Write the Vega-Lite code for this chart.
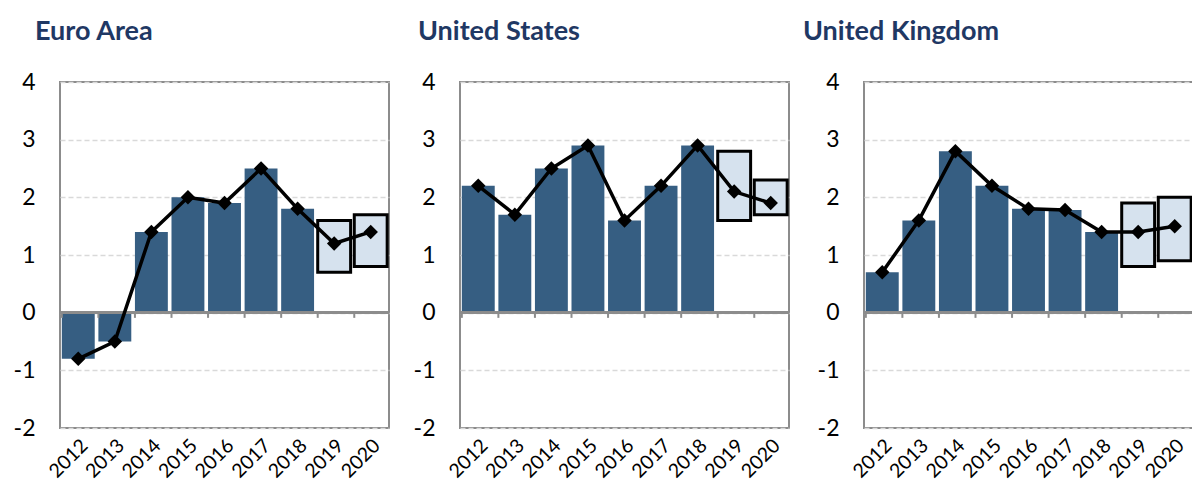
{
  "$schema": "https://vega.github.io/schema/vega-lite/v6.json",
  "padding": {"left": 12, "top": 17, "right": 0, "bottom": 0},
  "spacing": 10,
  "config": {
    "view": {"stroke": "#8c8c8c", "strokeWidth": 2},
    "font": "Lato",
    "axis": {"labelFont": "Lato", "labelColor": "#000000"}
  },
  "datasets": {
    "d": [
      {"region": "Euro Area", "year": "2012", "value": -0.8, "bar": -0.8, "lo": null, "hi": null},
      {"region": "Euro Area", "year": "2013", "value": -0.5, "bar": -0.5, "lo": null, "hi": null},
      {"region": "Euro Area", "year": "2014", "value": 1.4, "bar": 1.4, "lo": null, "hi": null},
      {"region": "Euro Area", "year": "2015", "value": 2.0, "bar": 2.0, "lo": null, "hi": null},
      {"region": "Euro Area", "year": "2016", "value": 1.9, "bar": 1.9, "lo": null, "hi": null},
      {"region": "Euro Area", "year": "2017", "value": 2.5, "bar": 2.5, "lo": null, "hi": null},
      {"region": "Euro Area", "year": "2018", "value": 1.8, "bar": 1.8, "lo": null, "hi": null},
      {"region": "Euro Area", "year": "2019", "value": 1.2, "bar": null, "lo": 0.7, "hi": 1.6},
      {"region": "Euro Area", "year": "2020", "value": 1.4, "bar": null, "lo": 0.8, "hi": 1.7},
      {"region": "United States", "year": "2012", "value": 2.2, "bar": 2.2, "lo": null, "hi": null},
      {"region": "United States", "year": "2013", "value": 1.7, "bar": 1.7, "lo": null, "hi": null},
      {"region": "United States", "year": "2014", "value": 2.5, "bar": 2.5, "lo": null, "hi": null},
      {"region": "United States", "year": "2015", "value": 2.9, "bar": 2.9, "lo": null, "hi": null},
      {"region": "United States", "year": "2016", "value": 1.6, "bar": 1.6, "lo": null, "hi": null},
      {"region": "United States", "year": "2017", "value": 2.2, "bar": 2.2, "lo": null, "hi": null},
      {"region": "United States", "year": "2018", "value": 2.9, "bar": 2.9, "lo": null, "hi": null},
      {"region": "United States", "year": "2019", "value": 2.1, "bar": null, "lo": 1.6, "hi": 2.8},
      {"region": "United States", "year": "2020", "value": 1.9, "bar": null, "lo": 1.7, "hi": 2.3},
      {"region": "United Kingdom", "year": "2012", "value": 0.7, "bar": 0.7, "lo": null, "hi": null},
      {"region": "United Kingdom", "year": "2013", "value": 1.6, "bar": 1.6, "lo": null, "hi": null},
      {"region": "United Kingdom", "year": "2014", "value": 2.8, "bar": 2.8, "lo": null, "hi": null},
      {"region": "United Kingdom", "year": "2015", "value": 2.2, "bar": 2.2, "lo": null, "hi": null},
      {"region": "United Kingdom", "year": "2016", "value": 1.8, "bar": 1.8, "lo": null, "hi": null},
      {"region": "United Kingdom", "year": "2017", "value": 1.78, "bar": 1.78, "lo": null, "hi": null},
      {"region": "United Kingdom", "year": "2018", "value": 1.4, "bar": 1.4, "lo": null, "hi": null},
      {"region": "United Kingdom", "year": "2019", "value": 1.4, "bar": null, "lo": 0.8, "hi": 1.9},
      {"region": "United Kingdom", "year": "2020", "value": 1.5, "bar": null, "lo": 0.9, "hi": 2.0}
    ]
  },
  "hconcat": [
    {
      "spacing": 20,
      "hconcat": [
        {
          "title": {"text": "Euro Area", "anchor": "start", "frame": "group", "dx": -25, "fontSize": 27, "font": "Lato", "fontWeight": "bold", "color": "#1f3864", "offset": 25},
          "width": 329, "height": 346,
          "data": {"name": "d"},
          "transform": [{"filter": "datum.region === 'Euro Area'"}],
          "layer": [
            {"transform": [{"filter": "datum.bar != null"}], "mark": {"type": "bar", "color": "#365e82"},
             "encoding": {
               "x": {"field": "year", "type": "ordinal", "scale": {"paddingInner": 0.1, "paddingOuter": 0.05}, "axis": {"title": null, "labelAngle": -45, "labelFontSize": 19.5, "ticks": false, "domain": false, "labelPadding": 8}},
               "y": {"field": "bar", "type": "quantitative", "scale": {"domain": [-2, 4], "nice": false}, "axis": {"title": null, "values": [-2, -1, 0, 1, 2, 3, 4], "labelExpr": "'' + datum.value", "labelFontSize": 23, "labelPadding": 25, "ticks": false, "domain": false, "gridDash": [5, 3], "gridColor": "#d9d9d9", "gridWidth": 1.5}}}},
            {"transform": [{"filter": "datum.lo != null"}], "mark": {"type": "bar", "fill": "#d6e2ee", "stroke": "#000000", "strokeWidth": 3},
             "encoding": {"x": {"field": "year", "type": "ordinal"}, "y": {"field": "lo", "type": "quantitative"}, "y2": {"field": "hi"}}},
            {"mark": {"type": "rule", "color": "#8c8c8c", "strokeWidth": 2.5}, "encoding": {"y": {"datum": 0}}},
            {"mark": {"type": "rule", "color": "#8c8c8c", "strokeWidth": 2}, "encoding": {"x": {"field": "year", "type": "ordinal", "bandPosition": 0}, "y": {"datum": 0}, "y2": {"datum": -0.09}}},
            {"mark": {"type": "line", "color": "#000000", "strokeWidth": 3.5, "point": {"shape": "diamond", "size": 210, "fill": "#000000", "filled": true}},
             "encoding": {"x": {"field": "year", "type": "ordinal"}, "y": {"field": "value", "type": "quantitative"}}}
          ]
        },
        {
          "title": {"text": "United States", "anchor": "start", "frame": "group", "dx": -42, "fontSize": 27, "font": "Lato", "fontWeight": "bold", "color": "#1f3864", "offset": 25},
          "width": 329, "height": 346,
          "data": {"name": "d"},
          "transform": [{"filter": "datum.region === 'United States'"}],
          "layer": [
            {"transform": [{"filter": "datum.bar != null"}], "mark": {"type": "bar", "color": "#365e82"},
             "encoding": {
               "x": {"field": "year", "type": "ordinal", "scale": {"paddingInner": 0.1, "paddingOuter": 0.05}, "axis": {"title": null, "labelAngle": -45, "labelFontSize": 19.5, "ticks": false, "domain": false, "labelPadding": 8}},
               "y": {"field": "bar", "type": "quantitative", "scale": {"domain": [-2, 4], "nice": false}, "axis": {"title": null, "values": [-2, -1, 0, 1, 2, 3, 4], "labelExpr": "'' + datum.value", "labelFontSize": 23, "labelPadding": 25, "ticks": false, "domain": false, "gridDash": [5, 3], "gridColor": "#d9d9d9", "gridWidth": 1.5}}}},
            {"transform": [{"filter": "datum.lo != null"}], "mark": {"type": "bar", "fill": "#d6e2ee", "stroke": "#000000", "strokeWidth": 3},
             "encoding": {"x": {"field": "year", "type": "ordinal"}, "y": {"field": "lo", "type": "quantitative"}, "y2": {"field": "hi"}}},
            {"mark": {"type": "rule", "color": "#8c8c8c", "strokeWidth": 2.5}, "encoding": {"y": {"datum": 0}}},
            {"mark": {"type": "rule", "color": "#8c8c8c", "strokeWidth": 2}, "encoding": {"x": {"field": "year", "type": "ordinal", "bandPosition": 0}, "y": {"datum": 0}, "y2": {"datum": -0.09}}},
            {"mark": {"type": "line", "color": "#000000", "strokeWidth": 3.5, "point": {"shape": "diamond", "size": 210, "fill": "#000000", "filled": true}},
             "encoding": {"x": {"field": "year", "type": "ordinal"}, "y": {"field": "value", "type": "quantitative"}}}
          ]
        }
      ]
    },
    {
      "title": {"text": "United Kingdom", "anchor": "start", "frame": "group", "dx": -61, "fontSize": 27, "font": "Lato", "fontWeight": "bold", "color": "#1f3864", "offset": 25},
      "width": 329, "height": 346,
      "data": {"name": "d"},
      "transform": [{"filter": "datum.region === 'United Kingdom'"}],
      "layer": [
        {"transform": [{"filter": "datum.bar != null"}], "mark": {"type": "bar", "color": "#365e82"},
         "encoding": {
           "x": {"field": "year", "type": "ordinal", "scale": {"paddingInner": 0.1, "paddingOuter": 0.05}, "axis": {"title": null, "labelAngle": -45, "labelFontSize": 19.5, "ticks": false, "domain": false, "labelPadding": 8}},
           "y": {"field": "bar", "type": "quantitative", "scale": {"domain": [-2, 4], "nice": false}, "axis": {"title": null, "values": [-2, -1, 0, 1, 2, 3, 4], "labelExpr": "'' + datum.value", "labelFontSize": 23, "labelPadding": 25, "ticks": false, "domain": false, "gridDash": [5, 3], "gridColor": "#d9d9d9", "gridWidth": 1.5}}}},
        {"transform": [{"filter": "datum.lo != null"}], "mark": {"type": "bar", "fill": "#d6e2ee", "stroke": "#000000", "strokeWidth": 3},
         "encoding": {"x": {"field": "year", "type": "ordinal"}, "y": {"field": "lo", "type": "quantitative"}, "y2": {"field": "hi"}}},
        {"mark": {"type": "rule", "color": "#8c8c8c", "strokeWidth": 2.5}, "encoding": {"y": {"datum": 0}}},
        {"mark": {"type": "rule", "color": "#8c8c8c", "strokeWidth": 2}, "encoding": {"x": {"field": "year", "type": "ordinal", "bandPosition": 0}, "y": {"datum": 0}, "y2": {"datum": -0.09}}},
        {"mark": {"type": "line", "color": "#000000", "strokeWidth": 3.5, "point": {"shape": "diamond", "size": 210, "fill": "#000000", "filled": true}},
         "encoding": {"x": {"field": "year", "type": "ordinal"}, "y": {"field": "value", "type": "quantitative"}}}
      ]
    }
  ]
}
